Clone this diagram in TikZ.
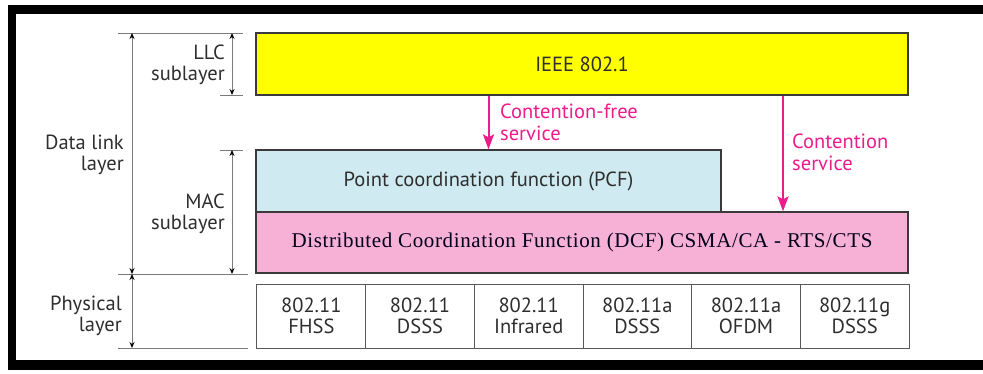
\documentclass[tikz,border=0pt]{standalone}
\usepackage{fontspec}
\setmainfont{PT Sans}
\newfontfamily\dcffont[LetterSpace=3]{Liberation Serif}
\usetikzlibrary{arrows.meta}
\definecolor{llcyellow}{HTML}{FFFF00}
\definecolor{pcfblue}{HTML}{CFEBF1}
\definecolor{dcfpink}{HTML}{F7B0D6}
\definecolor{svcpink}{HTML}{EC1C8C}
\definecolor{edge}{HTML}{3A3A3A}
\definecolor{dimgray}{HTML}{7A7A7A}
\definecolor{txt}{HTML}{2E2E2E}
\begin{document}
\begin{tikzpicture}[x=1pt,y=-1pt,
  sans/.style={font=\fontsize{20.5}{21.5}\selectfont, text=txt},
  layerbox/.style={draw=edge, line width=1.3pt, inner sep=0pt, sans},
  physbox/.style={draw=edge!85, line width=1pt, inner sep=0pt, minimum width=108.67pt, minimum height=64pt, sans, align=center},
  svc/.style={draw=svcpink, line width=2pt, -{Stealth[length=15pt,width=11pt,inset=3pt]}, svcpink},
  svclabel/.style={font=\fontsize{20.5}{21.5}\selectfont, text=svcpink, align=left, inner sep=0pt, anchor=west},
  sidelabel/.style={sans, align=right, inner sep=0pt, anchor=east},
  dimline/.style={draw=dimgray, line width=0.9pt},
  dimarrow/.style={draw=dimgray, line width=0.9pt, {Stealth[length=6pt,width=5pt,black]}-{Stealth[length=6pt,width=5pt,black]}}
]
\useasboundingbox (0,0) rectangle (983,373);
% frame
\fill[black] (8,5) rectangle (983,14);
\fill[black] (8,5) rectangle (16,370);
\fill[black] (8,360) rectangle (983,370);

% layer boxes
\node[layerbox, fill=llcyellow, minimum width=652pt, minimum height=62pt] (llc) at (582,64) {IEEE 802.1};
\node[layerbox, fill=pcfblue, minimum width=465pt, minimum height=62pt] (pcf) at (488.5,181) {Point coordination function (PCF)};
\node[layerbox, fill=dcfpink, minimum width=652pt, minimum height=61pt, font=\dcffont\fontsize{21}{23}\selectfont, text=black!90!blue] (dcf) at (582,242.5) {Distributed Coordination Function (DCF) CSMA/CA - RTS/CTS};

% physical boxes
\node[physbox] (p1) at (311.33,316) {802.11\\FHSS};
\node[physbox] (p2) at (420,316) {802.11\\DSSS};
\node[physbox] (p3) at (528.67,316) {802.11\\Infrared};
\node[physbox] (p4) at (637.33,316) {802.11a\\DSSS};
\node[physbox] (p5) at (746,316) {802.11a\\OFDM};
\node[physbox] (p6) at (854.67,316) {802.11g\\DSSS};

% services
\coordinate (c2) at (783,0);
\draw[svc] (pcf.north |- llc.south) -- (pcf.north);
\draw[svc] (llc.south -| c2) -- (dcf.north -| c2);
\node[svclabel] (cfl) at (500,122.5) {Contention-free\\service};
\node[svclabel] (cl) at (792,152.5) {Contention\\service};

% dimension lines
\coordinate (t1a) at (118,33);  \coordinate (t1b) at (243,33);
\coordinate (t2a) at (220,95);  \coordinate (t2b) at (243,95);
\coordinate (t3a) at (220,150); \coordinate (t3b) at (243,150);
\coordinate (t4a) at (118,274); \coordinate (t4b) at (248,274);
\coordinate (t5a) at (118,348); \coordinate (t5b) at (248,348);
\draw[dimline] (t1a) -- (t1b);
\draw[dimline] (t2a) -- (t2b);
\draw[dimline] (t3a) -- (t3b);
\draw[dimline] (t4a) -- (t4b);
\draw[dimline] (t5a) -- (t5b);
\coordinate (dlx) at (132,0);
\coordinate (slx) at (232,0);
\draw[dimarrow] (t1a -| dlx) -- (t4a -| dlx);
\draw[dimarrow] (t1a -| slx) -- (t2a -| slx);
\draw[dimarrow] (t3a -| slx) -- (t4a -| slx);
\draw[dimarrow] (t4a -| dlx) -- (t5a -| dlx);

% side labels
\node[sidelabel] (dll) at (124,155) {Data link\\layer};
\node[sidelabel] (llcl) at (225,65) {LLC\\sublayer};
\node[sidelabel] (macl) at (225,214) {MAC\\sublayer};
\node[sidelabel] (phl) at (122,316) {Physical\\layer};
\end{tikzpicture}
\end{document}
